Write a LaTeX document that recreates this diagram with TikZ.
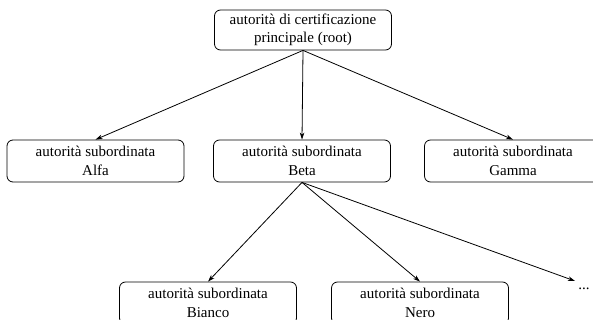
\documentclass[tikz,border=0pt]{standalone}
\usepackage{fontspec}
\setmainfont{Liberation Serif}
\usetikzlibrary{arrows.meta}

\begin{document}
\begin{tikzpicture}[x=1pt, y=-1pt, line width=0.8pt,
    box/.style={draw, rounded corners=6pt, minimum width=177pt, minimum height=42pt, align=center, inner sep=0pt, font=\fontsize{15}{18.5}\selectfont},
    link/.style={-{Stealth[length=7pt, width=4.5pt, inset=2pt]}}]
        \useasboundingbox (0,0) rectangle (593,320);
        \clip (0,0) rectangle (593,320);

        \node[box, minimum height=40pt] (root) at (303,30) {autorità di certificazione\\principale (root)};

        \node[box] (alfa) at (95.5,161) {autorità subordinata\\Alfa};
        \node[box] (beta) at (302,161) {autorità subordinata\\Beta};
        \node[box] (gamma) at (513,161) {autorità subordinata\\Gamma};

        \node[box] (bianco) at (208,303) {autorità subordinata\\Bianco};
        \node[box] (nero) at (420,303) {autorità subordinata\\Nero};
        \node[font=\fontsize{15}{18}\selectfont, inner sep=0pt] (dots) at (584,289) {...};
        \coordinate (more) at (575,281);

        \draw[link] (root.south) -- (alfa.north);
        \draw[link] (root.south) -- (beta.north);
        \draw[link] (root.south) -- (gamma.north);

        \draw[link] (beta.south) -- (bianco.north);
        \draw[link] (beta.south) -- (nero.north);
        \draw[link] (beta.south) -- (more);
\end{tikzpicture}
\end{document}
